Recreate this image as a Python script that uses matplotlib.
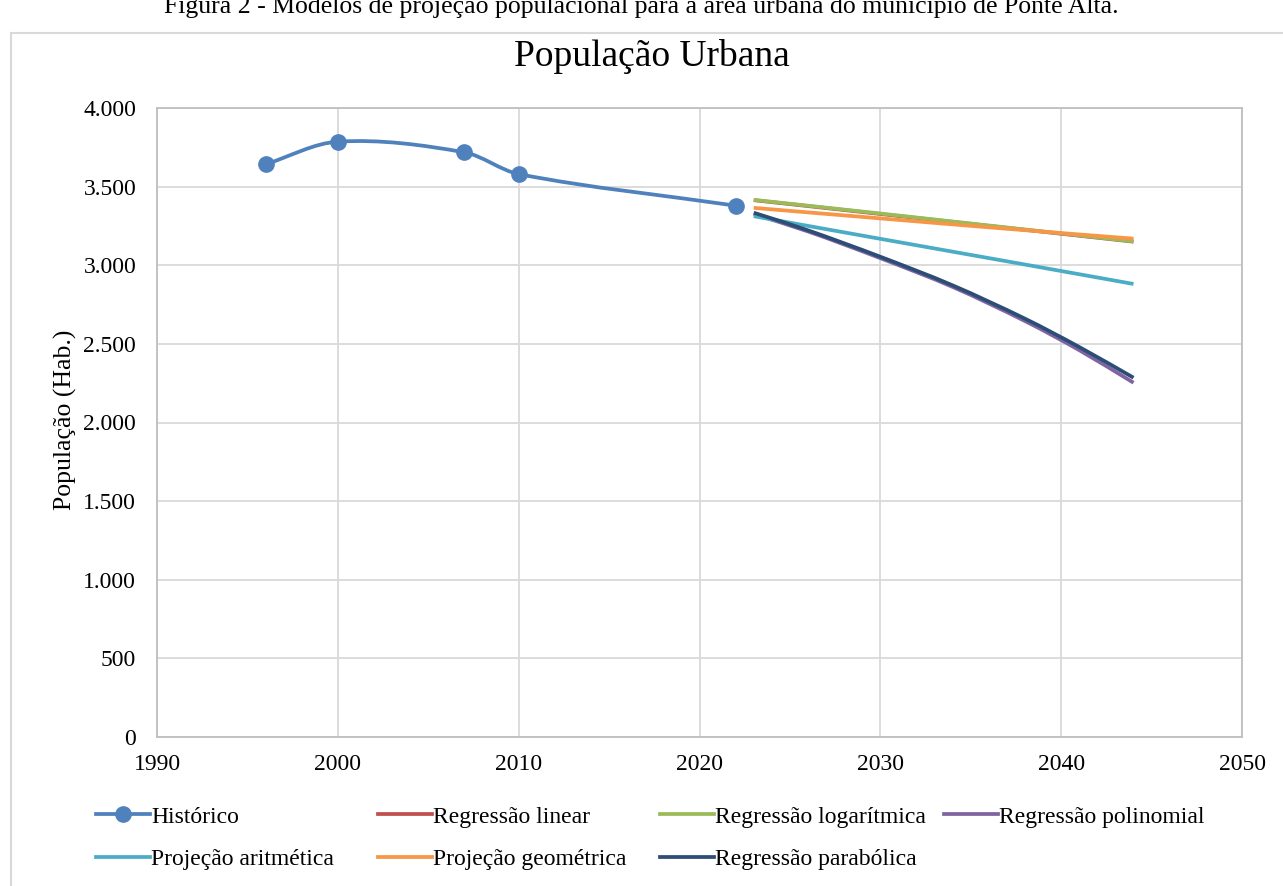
import matplotlib
matplotlib.use("Agg")
import matplotlib.pyplot as plt
import numpy as np
from matplotlib.path import Path
from matplotlib.patches import PathPatch, Rectangle
from matplotlib.lines import Line2D
from matplotlib.ticker import FuncFormatter, MultipleLocator

plt.rcParams['font.family'] = ['Liberation Serif', 'DejaVu Serif']

# ---- data ----
hist_years = [1996, 2000, 2007, 2010, 2022]
hist_vals = [3642, 3786, 3718, 3580, 3379]

lin_years = [2023, 2030, 2037, 2044]
lin_vals = [3414, 3326, 3238, 3150]

log_years = [2023, 2030, 2037, 2044]
log_vals = [3416, 3329, 3240, 3152]

poly_years = [2023, 2026, 2030, 2034, 2038, 2041, 2044]
poly_vals = [3325, 3215, 3045, 2862, 2645, 2460, 2253]

arit_years = [2023, 2030, 2037, 2044]
arit_vals = [3312, 3168, 3025, 2881]

geom_years = [2023, 2030, 2037, 2044]
geom_vals = [3365, 3298, 3232, 3169]

parab_years = [2023, 2026, 2030, 2034, 2038, 2041, 2044]
parab_vals = [3334, 3222, 3054, 2872, 2660, 2480, 2285]

series = [
    ("Histórico", hist_years, hist_vals, "#4F81BD"),
    ("Regressão linear", lin_years, lin_vals, "#C0504D"),
    ("Regressão logarítmica", log_years, log_vals, "#9BBB59"),
    ("Regressão polinomial", poly_years, poly_vals, "#8064A2"),
    ("Projeção aritmética", arit_years, arit_vals, "#4BACC6"),
    ("Projeção geométrica", geom_years, geom_vals, "#F79646"),
    ("Regressão parabólica", parab_years, parab_vals, "#2C4D75"),
]

W, H = 1283, 886
fig = plt.figure(figsize=(W / 100, H / 100), dpi=100)

def fx(px):
    return px / W

def fy(py):
    return 1 - py / H

# chart border
fig.patches.append(Rectangle((fx(11), fy(900)), fx(1300) - fx(11), fy(33) - fy(900),
                             transform=fig.transFigure, fill=False,
                             edgecolor="#D9D9D9", linewidth=1.5))

# caption (cut at top)
fig.text(0.5, fy(13), "Figura 2 - Modelos de projeção populacional para a área urbana do município de Ponte Alta.",
         ha="center", va="baseline", fontsize=18.5)

left, right, top, bottom = 157, 1242, 108, 737
ax = fig.add_axes([fx(left), fy(bottom), fx(right) - fx(left), fy(top) - fy(bottom)])
ax.set_xlim(1990, 2050)
ax.set_ylim(0, 4000)
ax.xaxis.set_major_locator(MultipleLocator(10))
ax.yaxis.set_major_locator(MultipleLocator(500))
ax.yaxis.set_major_formatter(FuncFormatter(lambda v, p: f"{int(v):,}".replace(",", ".")))
ax.grid(True, color="#D9D9D9", linewidth=1.3)
ax.set_axisbelow(True)
for s in ax.spines.values():
    s.set_color("#BFBFBF")
    s.set_linewidth(1.3)
ax.tick_params(length=0, labelsize=17, colors="black")
ax.tick_params(axis="y", pad=15)
ax.tick_params(axis="x", pad=12)

def smooth_path(xs, ys):
    xs = np.asarray(xs, float)
    ys = np.asarray(ys, float)
    n = len(xs)
    # slopes (per unit x) using non-uniform finite differences
    m = np.zeros(n)
    for i in range(n):
        i0 = max(i - 1, 0)
        i1 = min(i + 1, n - 1)
        m[i] = (ys[i1] - ys[i0]) / (xs[i1] - xs[i0])
    verts = [(xs[0], ys[0])]
    codes = [Path.MOVETO]
    for i in range(n - 1):
        h = xs[i + 1] - xs[i]
        c1 = (xs[i] + h / 3, ys[i] + m[i] * h / 3)
        c2 = (xs[i + 1] - h / 3, ys[i + 1] - m[i + 1] * h / 3)
        verts += [c1, c2, (xs[i + 1], ys[i + 1])]
        codes += [Path.CURVE4] * 3
    return Path(verts, codes)

handles = []
for name, xs, ys, col in series:
    patch = PathPatch(smooth_path(xs, ys), facecolor="none", edgecolor=col,
                      linewidth=2.7, capstyle="butt", joinstyle="round",
                      transform=ax.transData, zorder=3)
    ax.add_patch(patch)
    if name == "Histórico":
        ax.plot(xs, ys, linestyle="none", marker="o", markersize=11,
                color=col, zorder=4)
        h = Line2D([], [], color=col, linewidth=2.7, marker="o", markersize=11)
    else:
        h = Line2D([], [], color=col, linewidth=2.7)
    handles.append((h, name))

fig.text(fx(65), fy(420), "População (Hab.)", rotation=90, ha="center", va="center", fontsize=18.5)
fig.text(fx(652), fy(56), "População Urbana", ha="center", va="center", fontsize=27)

# legend columns (Excel-like fixed positions)
cols_x = [96, 378, 660, 944]
layout = [[0, 4], [1, 5], [2, 6], [3]]
for cx, idxs in zip(cols_x, layout):
    hs = [handles[i][0] for i in idxs]
    ls = [handles[i][1] for i in idxs]
    fig.legend(hs, ls, loc="upper left", bbox_to_anchor=(fx(cx), fy(806)),
               frameon=False, fontsize=17, handlelength=2.3, handletextpad=0.05,
               borderpad=0, borderaxespad=0, labelspacing=0.9)

fig.savefig("out.png", dpi=100)
